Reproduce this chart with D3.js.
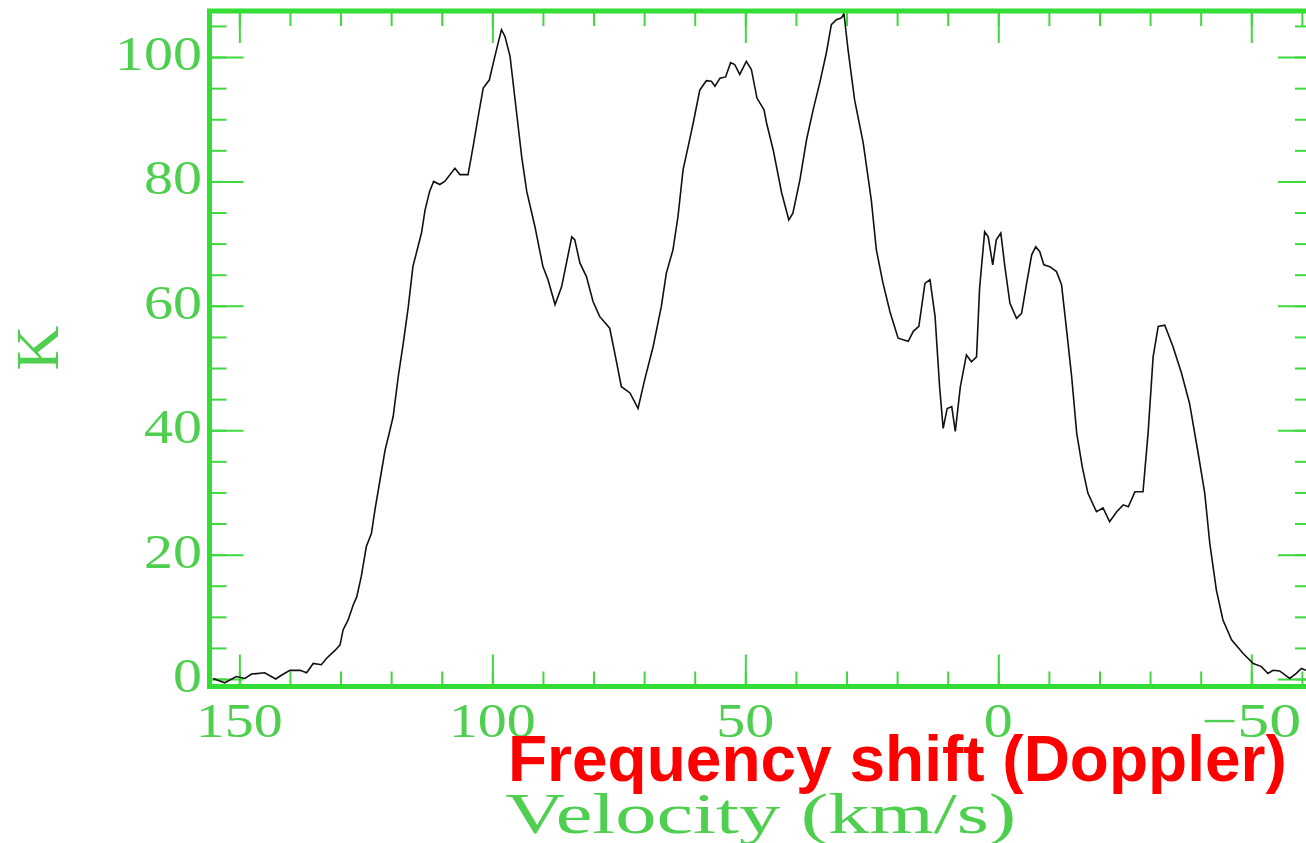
<!DOCTYPE html>
<html>
<head>
<meta charset="utf-8">
<script src="https://cdn.jsdelivr.net/npm/d3@7"></script>
<style>
  html, body { margin: 0; padding: 0; background: #ffffff; }
  svg { display: block; }
</style>
</head>
<body>
<svg id="chart" width="1306" height="843"></svg>
<script>
// ---- Data ----
const velocity = [
  155.2, 152.9, 150.6, 148.9, 147.6, 145.0, 142.8, 141.7, 140.0, 138.0,
  136.7, 135.4, 133.8, 132.8, 131.1, 130.1, 129.5, 128.5, 127.5, 126.8,
  125.9, 124.9, 123.9, 123.2, 122.2, 121.2, 120.3, 119.6, 118.6, 117.6,
  116.6, 115.7, 114.7, 114.0, 113.3, 112.4, 111.6, 110.4, 109.4, 107.4,
  106.4, 104.8, 103.8, 102.8, 101.8, 100.6, 99.5, 98.2, 97.5, 96.5,
  95.2, 94.2, 93.2, 91.6, 90.0, 89.0, 87.6, 86.3, 84.3, 83.7,
  82.7, 81.4, 80.1, 78.8, 76.8, 75.8, 74.5, 72.8, 71.2, 69.9,
  68.2, 66.6, 65.6, 64.3, 63.3, 62.3, 61.3, 60.3, 59.0, 57.7,
  56.7, 56.0, 55.0, 53.9, 52.9, 52.1, 51.1, 49.8, 48.8, 47.7,
  46.3, 45.8, 44.5, 42.8, 41.4, 40.6, 39.2, 37.9, 36.6, 35.3,
  34.0, 33.0, 32.0, 31.0, 30.5, 29.7, 28.4, 26.7, 25.1, 24.1,
  22.8, 21.4, 19.8, 17.8, 16.8, 15.7, 14.5, 13.5, 12.5, 11.6,
  10.9, 10.1, 9.2, 8.5, 7.5, 6.3, 5.3, 4.3, 3.7, 2.7,
  2.0, 1.1, 0.4, -0.5, -1.3, -2.3, -3.6, -4.6, -5.6, -6.6,
  -7.4, -8.2, -9.0, -10.2, -11.5, -12.5, -13.5, -14.5, -15.5, -16.6,
  -17.7, -19.4, -20.7, -22.0, -23.4, -24.7, -25.7, -27.0, -28.6, -29.6,
  -30.6, -31.6, -32.9, -34.5, -36.2, -37.8, -39.5, -40.8, -41.8, -43.1,
  -44.4, -46.1, -48.4, -50.4, -52.0, -53.3, -54.3, -55.6, -57.6, -58.9,
  -59.9, -60.8
];
const temperature = [
  0.1, -0.6, 0.4, 0.1, 0.8, 1.0, 0.0, 0.6, 1.4, 1.4,
  1.0, 2.5, 2.3, 3.3, 4.6, 5.5, 7.9, 9.5, 11.9, 13.2,
  16.5, 21.3, 23.4, 27.2, 32.0, 36.8, 39.8, 42.2, 48.6, 54.0,
  59.9, 66.3, 69.5, 71.7, 75.4, 78.4, 80.0, 79.5, 80.0, 82.1,
  81.1, 81.1, 85.6, 90.4, 95.0, 96.3, 100.1, 104.4, 103.3, 100.1,
  91.0, 84.0, 78.4, 72.8, 66.3, 64.2, 60.2, 63.1, 71.1, 70.6,
  66.9, 64.7, 60.7, 58.3, 56.4, 52.4, 47.0, 46.0, 43.5, 48.1,
  53.5, 59.9, 65.3, 69.0, 74.4, 81.9, 85.6, 89.4, 94.7, 96.2,
  96.1, 95.3, 96.6, 96.8, 99.1, 98.8, 97.2, 99.3, 98.0, 93.4,
  91.5, 89.4, 85.1, 78.1, 73.8, 74.9, 80.3, 86.7, 91.5, 95.8,
  100.6, 105.2, 106.0, 106.3, 107.0, 101.2, 93.1, 86.2, 77.0, 69.0,
  63.7, 59.0, 54.8, 54.3, 55.9, 56.7, 63.6, 64.2, 58.3, 47.0,
  40.3, 43.5, 43.8, 39.8, 47.0, 52.1, 51.0, 51.8, 62.8, 71.9,
  71.1, 66.6, 70.6, 71.7, 66.3, 60.4, 58.0, 58.8, 63.6, 68.2,
  69.5, 68.7, 66.6, 66.3, 65.5, 63.4, 56.1, 48.6, 39.5, 34.1,
  29.9, 26.9, 27.5, 25.3, 26.9, 28.0, 27.7, 30.1, 30.1, 39.5,
  51.8, 56.7, 56.9, 53.5, 49.2, 44.3, 36.3, 29.9, 21.8, 14.3,
  9.5, 6.3, 4.1, 2.5, 2.0, 0.9, 1.4, 1.3, 0.1, 0.9,
  1.7, 1.4
];
const xTickValues = [150, 100, 50, 0, -50];
const xTickLabels = ["150", "100", "50", "0", "\u221250"];
const xMinorTicks = [150, 140, 130, 120, 110, 100, 90, 80, 70, 60, 50, 40, 30, 20, 10, 0, -10, -20, -30, -40, -50, -60];
const yTickValues = [0, 20, 40, 60, 80, 100];
const yTickLabels = ["0", "20", "40", "60", "80", "100"];
const yMinorTicks = [0, 5, 10, 15, 20, 25, 30, 35, 40, 45, 50, 55, 60, 65, 70, 75, 80, 85, 90, 95, 100, 105];
const xTitle = "Velocity (km/s)";
const yTitle = "K";
const annotation = "Frequency shift (Doppler)";

// ---- Layout ----
const svg = d3.select("#chart");
const plot = { left: 209.5, right: 1312, top: 11, bottom: 686.5 };
const x = d3.scaleLinear().domain([155.9, -62.0]).range([plot.left, plot.right]);
const y = d3.scaleLinear().domain([-1.2, 107.4]).range([plot.bottom, plot.top]);

const frameColor = "#33dd33";
const tickColor = "#3fd83f";
const labelColor = "#4fcf4f";
const labelFont = "'Liberation Serif', 'DejaVu Serif', serif";

// width of a tick label in the reference's wide stroke font
function labelWidth(s) {
  let w = 0;
  for (const ch of s) w += (ch === "\u2212") ? 42 : 29;
  return w;
}

// clip
svg.append("defs").append("clipPath").attr("id", "plotclip")
  .append("rect")
  .attr("x", plot.left).attr("y", plot.top)
  .attr("width", plot.right - plot.left).attr("height", plot.bottom - plot.top);

// ---- Axes via d3 axis generators (ticks inward) ----
const majorLen = 32, minorLen = 15;

function styleAxis(g) {
  g.select(".domain").remove();
  g.selectAll(".tick line").attr("stroke", tickColor).attr("stroke-width", 2);
  g.selectAll(".tick text").remove();
}

// bottom
svg.append("g").attr("transform", `translate(0,${plot.bottom})`)
  .call(d3.axisTop(x).tickValues(xMinorTicks).tickSize(minorLen)).call(styleAxis);
svg.append("g").attr("transform", `translate(0,${plot.bottom})`)
  .call(d3.axisTop(x).tickValues(xTickValues).tickSize(majorLen)).call(styleAxis);
// top
svg.append("g").attr("transform", `translate(0,${plot.top})`)
  .call(d3.axisBottom(x).tickValues(xMinorTicks).tickSize(minorLen)).call(styleAxis);
svg.append("g").attr("transform", `translate(0,${plot.top})`)
  .call(d3.axisBottom(x).tickValues(xTickValues).tickSize(majorLen)).call(styleAxis);
// left
svg.append("g").attr("transform", `translate(${plot.left},0)`)
  .call(d3.axisRight(y).tickValues(yMinorTicks).tickSize(minorLen + 2)).call(styleAxis);
svg.append("g").attr("transform", `translate(${plot.left},0)`)
  .call(d3.axisRight(y).tickValues(yTickValues).tickSize(majorLen + 2)).call(styleAxis);
// right
svg.append("g").attr("transform", `translate(${plot.right},0)`)
  .call(d3.axisLeft(y).tickValues(yMinorTicks).tickSize(minorLen + 2)).call(styleAxis);
svg.append("g").attr("transform", `translate(${plot.right},0)`)
  .call(d3.axisLeft(y).tickValues(yTickValues).tickSize(majorLen + 2)).call(styleAxis);

// ---- Spectrum line ----
const pts = velocity.map((v, i) => [v, temperature[i]]);
svg.append("path")
  .datum(pts)
  .attr("clip-path", "url(#plotclip)")
  .attr("fill", "none")
  .attr("stroke", "#111111")
  .attr("stroke-width", 1.6)
  .attr("stroke-linejoin", "miter")
  .attr("d", d3.line().x(d => x(d[0])).y(d => y(d[1])));

// ---- Frame ----
svg.append("rect")
  .attr("x", plot.left).attr("y", plot.top)
  .attr("width", plot.right - plot.left).attr("height", plot.bottom - plot.top)
  .attr("fill", "none").attr("stroke", frameColor).attr("stroke-width", 5);

// ---- Tick labels ----
svg.append("g").selectAll("text").data(xTickValues).join("text")
  .attr("x", d => x(d))
  .attr("y", 737)
  .attr("text-anchor", "middle")
  .attr("font-family", labelFont)
  .attr("font-size", 48)
  .attr("fill", labelColor)
  .attr("textLength", (d, i) => labelWidth(xTickLabels[i]))
  .attr("lengthAdjust", "spacingAndGlyphs")
  .text((d, i) => xTickLabels[i]);

svg.append("g").selectAll("text").data(yTickValues).join("text")
  .attr("x", 202)
  .attr("y", d => y(d) + 13)
  .attr("text-anchor", "end")
  .attr("font-family", labelFont)
  .attr("font-size", 48)
  .attr("fill", labelColor)
  .attr("textLength", (d, i) => labelWidth(yTickLabels[i]))
  .attr("lengthAdjust", "spacingAndGlyphs")
  .text((d, i) => yTickLabels[i]);

// ---- Axis titles ----
svg.append("text")
  .attr("transform", "translate(58,348) rotate(-90)")
  .attr("text-anchor", "middle")
  .attr("font-family", labelFont)
  .attr("font-size", 62)
  .attr("fill", labelColor)
  .text(yTitle);

svg.append("text")
  .attr("x", (plot.left + plot.right) / 2)
  .attr("y", 833)
  .attr("text-anchor", "middle")
  .attr("font-family", labelFont)
  .attr("font-size", 56)
  .attr("fill", labelColor)
  .attr("textLength", 511)
  .attr("lengthAdjust", "spacingAndGlyphs")
  .text(xTitle);

// ---- Red annotation ----
svg.append("text")
  .attr("x", 508)
  .attr("y", 781)
  .attr("font-family", "'Liberation Sans', Arial, sans-serif")
  .attr("font-weight", "bold")
  .attr("font-size", 64)
  .attr("fill", "#ff0000")
  .text(annotation);
</script>
</body>
</html>
